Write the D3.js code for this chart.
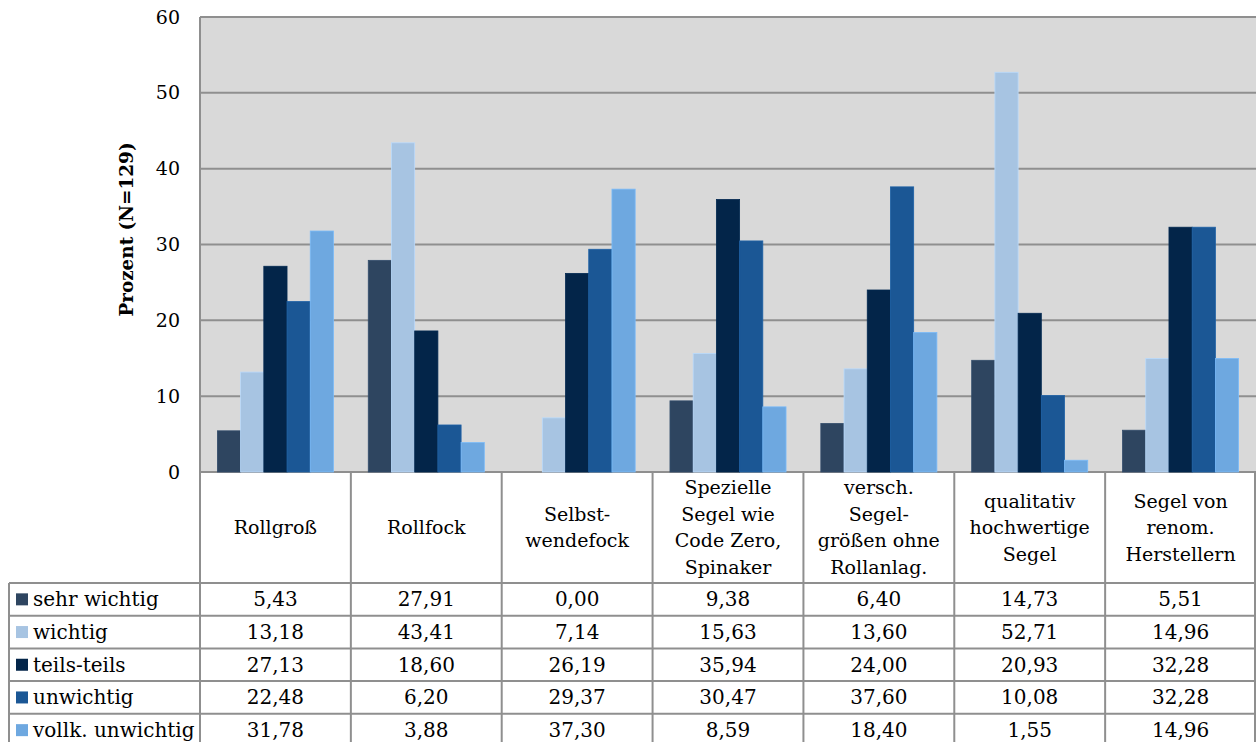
<!DOCTYPE html>
<html>
<head>
<meta charset="utf-8">
<script src="https://cdn.jsdelivr.net/npm/d3@7"></script>
<style>
  html, body { margin: 0; padding: 0; background: #fff; }
  svg { display: block; }
</style>
</head>
<body>
<svg id="chart" width="1256" height="742"></svg>
<script>
// Kategorien (Zeilenumbrüche als Listen)
const categories = [
  ["Rollgroß"],
  ["Rollfock"],
  ["Selbst-", "wendefock"],
  ["Spezielle", "Segel wie", "Code Zero,", "Spinaker"],
  ["versch.", "Segel-", "größen ohne", "Rollanlag."],
  ["qualitativ", "hochwertige", "Segel"],
  ["Segel von", "renom.", "Herstellern"]
];
const seriesNames = ["sehr wichtig", "wichtig", "teils-teils", "unwichtig", "vollk. unwichtig"];
const sehrWichtig     = [5.43, 27.91, 0.00, 9.38, 6.40, 14.73, 5.51];
const wichtig         = [13.18, 43.41, 7.14, 15.63, 13.60, 52.71, 14.96];
const teilsTeils      = [27.13, 18.60, 26.19, 35.94, 24.00, 20.93, 32.28];
const unwichtig       = [22.48, 6.20, 29.37, 30.47, 37.60, 10.08, 32.28];
const vollkUnwichtig  = [31.78, 3.88, 37.30, 8.59, 18.40, 1.55, 14.96];
const yTicks = [0, 10, 20, 30, 40, 50, 60];

const seriesValues = [sehrWichtig, wichtig, teilsTeils, unwichtig, vollkUnwichtig];
const colors = ["#2e4560", "#a7c4e2", "#032549", "#1b5795", "#6ea8e0"];

const svg = d3.select("#chart");
const plotLeft = 200, plotRight = 1256, plotTop = 17, plotBottom = 472;
const headerBottom = 583, rowH = 32.7, legendLeft = 9;
const gridColor = "#8f8f8f";
const slabFont = "'DejaVu Serif', serif";

const x0 = d3.scaleBand().domain(d3.range(categories.length)).range([plotLeft, plotRight]);
const x1 = d3.scaleBand().domain(d3.range(seriesNames.length))
  .range([0, x0.bandwidth()]).paddingInner(0).paddingOuter(0.75);
const y = d3.scaleLinear().domain([0, 60]).range([plotBottom, plotTop]);

// Zeichenfläche
svg.append("rect").attr("x", plotLeft).attr("y", plotTop)
  .attr("width", plotRight - plotLeft).attr("height", plotBottom - plotTop)
  .attr("fill", "#d9d9d9");

// Gitterlinien
svg.append("g").selectAll("line").data(yTicks).join("line")
  .attr("x1", plotLeft).attr("x2", plotRight)
  .attr("y1", d => y(d)).attr("y2", d => y(d))
  .attr("stroke", gridColor).attr("stroke-width", 2);

// Balken
const groups = svg.append("g").selectAll("g").data(seriesValues).join("g")
  .attr("fill", (d, i) => colors[i]);
groups.each(function(vals, si) {
  d3.select(this).selectAll("rect").data(vals).join("rect")
    .attr("x", (v, ci) => x0(ci) + x1(si))
    .attr("width", x1.bandwidth())
    .attr("y", v => y(v))
    .attr("height", v => y(0) - y(v))
    .attr("stroke", d3.color(colors[si]).brighter(0.3))
    .attr("stroke-width", 0.8);
});

// Rahmen der Zeichenfläche
svg.append("line").attr("x1", plotLeft).attr("x2", plotLeft).attr("y1", plotTop).attr("y2", plotBottom)
  .attr("stroke", gridColor).attr("stroke-width", 2);
svg.append("line").attr("x1", plotLeft).attr("x2", plotRight).attr("y1", plotTop).attr("y2", plotTop)
  .attr("stroke", gridColor).attr("stroke-width", 2);

// y-Achse
const yAxis = d3.axisLeft(y).tickValues(yTicks).tickSize(0).tickPadding(20);
svg.append("g").attr("transform", `translate(${plotLeft},0)`).call(yAxis)
  .call(g => g.select(".domain").remove())
  .selectAll("text")
  .attr("font-family", slabFont).attr("font-size", 19).attr("fill", "#000");

svg.append("text")
  .attr("transform", `translate(133,229.5) rotate(-90)`)
  .attr("text-anchor", "middle")
  .attr("font-family", slabFont).attr("font-weight", "bold").attr("font-size", 18.4)
  .text("Prozent (N=129)");

// Tabelle: Kopfzeile mit Kategorien
const tableBottom = headerBottom + rowH * seriesNames.length;
const lines = svg.append("g").attr("stroke", gridColor).attr("stroke-width", 2);
// senkrechte Linien
d3.range(categories.length + 1).forEach(i => {
  const xx = i < categories.length ? x0(i) : plotRight - 1;
  lines.append("line").attr("x1", xx).attr("x2", xx)
    .attr("y1", plotBottom).attr("y2", tableBottom + 2);
});
lines.append("line").attr("x1", legendLeft).attr("x2", legendLeft)
  .attr("y1", headerBottom).attr("y2", tableBottom + 2);
// waagerechte Linien
d3.range(seriesNames.length + 1).forEach(r => {
  const yy = headerBottom + r * rowH;
  lines.append("line").attr("x1", legendLeft).attr("x2", plotRight)
    .attr("y1", yy).attr("y2", yy);
});

// Kategorienbeschriftung
const catLineH = 26.5;
categories.forEach((lbl, ci) => {
  const cx = x0(ci) + x0.bandwidth() / 2;
  const cy = (plotBottom + headerBottom) / 2;
  const t = svg.append("text").attr("text-anchor", "middle")
    .attr("font-family", slabFont).attr("font-size", 19).attr("fill", "#000");
  lbl.forEach((line, li) => {
    t.append("tspan").attr("x", cx)
      .attr("y", cy + (li - (lbl.length - 1) / 2) * catLineH)
      .attr("dy", "0.35em").text(line);
  });
});

// Legende und Werte
const fmt = v => v.toFixed(2).replace(".", ",");
seriesNames.forEach((name, si) => {
  const rowY = headerBottom + si * rowH + rowH / 2;
  svg.append("rect").attr("x", 16).attr("y", rowY - 6).attr("width", 12).attr("height", 12)
    .attr("fill", colors[si]);
  svg.append("text").attr("x", 33).attr("y", rowY).attr("dy", "0.35em")
    .attr("font-family", slabFont).attr("font-size", 20).attr("fill", "#000")
    .text(name);
  seriesValues[si].forEach((v, ci) => {
    svg.append("text").attr("x", x0(ci) + x0.bandwidth() / 2).attr("y", rowY)
      .attr("dy", "0.35em").attr("text-anchor", "middle")
      .attr("font-family", slabFont).attr("font-size", 20).attr("fill", "#000")
      .text(fmt(v));
  });
});
</script>
</body>
</html>
